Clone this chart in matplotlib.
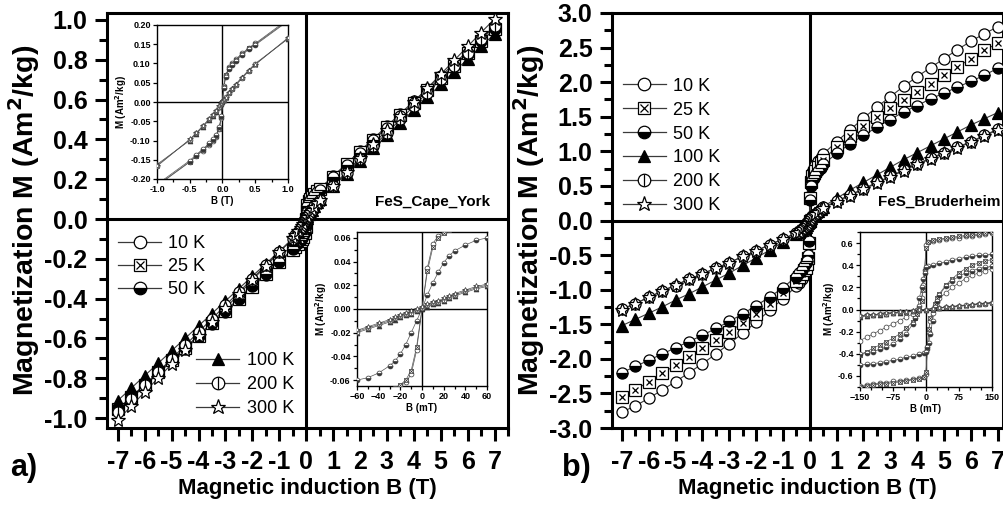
import matplotlib
matplotlib.use('Agg')
import matplotlib.pyplot as plt
from matplotlib.legend_handler import HandlerTuple
from matplotlib.lines import Line2D
from matplotlib.ticker import MultipleLocator, FormatStrFormatter

plt.rcParams['font.family'] = ['Liberation Sans', 'DejaVu Sans']

temps = ['10 K', '25 K', '50 K', '100 K', '200 K', '300 K']

# ---------------- main field grid (T) ----------------
B_main = [-7.0, -6.5, -6.0, -5.5, -5.0, -4.5, -4.0, -3.5, -3.0, -2.5, -2.0, -1.5, -1.0, -0.5,
          -0.4, -0.3, -0.2, -0.15, -0.1, -0.05, -0.02, 0.0, 0.02, 0.05, 0.1, 0.15, 0.2, 0.3, 0.4,
          0.5, 1.0, 1.5, 2.0, 2.5, 3.0, 3.5, 4.0, 4.5, 5.0, 5.5, 6.0, 6.5, 7.0]

# ---------------- panel a: FeS_Cape_York ----------------
Ma_10K = [-0.962, -0.900, -0.838, -0.776, -0.714, -0.652, -0.590, -0.528, -0.466, -0.404, -0.342, -0.280, -0.218, -0.156,
          -0.141, -0.126, -0.111, -0.101, -0.090, -0.071, -0.042, 0.0, 0.042, 0.071, 0.090, 0.101, 0.111, 0.126, 0.141,
          0.152, 0.215, 0.278, 0.341, 0.404, 0.467, 0.530, 0.592, 0.655, 0.718, 0.781, 0.843, 0.906, 0.968]
Ma_25K = [-0.955, -0.893, -0.832, -0.770, -0.709, -0.647, -0.586, -0.524, -0.463, -0.401, -0.340, -0.278, -0.217, -0.155,
          -0.139, -0.124, -0.109, -0.099, -0.088, -0.069, -0.040, 0.0, 0.040, 0.069, 0.088, 0.099, 0.109, 0.124, 0.139,
          0.150, 0.212, 0.274, 0.336, 0.398, 0.460, 0.522, 0.584, 0.646, 0.708, 0.770, 0.832, 0.894, 0.955]
Ma_50K = [-0.958, -0.896, -0.834, -0.772, -0.710, -0.648, -0.586, -0.524, -0.462, -0.400, -0.338, -0.276, -0.214, -0.152,
          -0.137, -0.122, -0.107, -0.097, -0.086, -0.066, -0.037, 0.0, 0.037, 0.066, 0.086, 0.097, 0.107, 0.122, 0.137,
          0.148, 0.210, 0.272, 0.334, 0.396, 0.458, 0.520, 0.582, 0.644, 0.706, 0.768, 0.830, 0.892, 0.954]
Ma_100K = [-0.912, -0.850, -0.787, -0.725, -0.662, -0.600, -0.537, -0.475, -0.412, -0.350, -0.287, -0.225, -0.162, -0.100,
           -0.083, -0.065, -0.046, -0.036, -0.025, -0.013, -0.005, 0.0, 0.005, 0.013, 0.025, 0.036, 0.046, 0.065, 0.083,
           0.100, 0.164, 0.228, 0.292, 0.356, 0.420, 0.484, 0.548, 0.612, 0.676, 0.740, 0.804, 0.868, 0.930]
Ma_200K = [-0.970, -0.903, -0.836, -0.769, -0.702, -0.635, -0.568, -0.501, -0.434, -0.367, -0.300, -0.232, -0.165, -0.098,
           -0.081, -0.063, -0.044, -0.034, -0.024, -0.012, -0.005, 0.0, 0.005, 0.012, 0.024, 0.034, 0.044, 0.063, 0.081,
           0.098, 0.165, 0.232, 0.299, 0.366, 0.433, 0.500, 0.567, 0.634, 0.701, 0.768, 0.835, 0.902, 0.968]
Ma_300K = [-1.010, -0.940, -0.869, -0.799, -0.729, -0.659, -0.588, -0.518, -0.448, -0.378, -0.307, -0.237, -0.167, -0.097,
           -0.080, -0.062, -0.043, -0.033, -0.023, -0.011, -0.004, 0.0, 0.004, 0.011, 0.023, 0.033, 0.043, 0.062, 0.080,
           0.097, 0.167, 0.237, 0.307, 0.377, 0.447, 0.517, 0.587, 0.657, 0.727, 0.797, 0.867, 0.937, 1.005]

# ---------------- panel b: FeS_Bruderheim ----------------
Mb_10K = [-2.77, -2.68, -2.57, -2.45, -2.33, -2.20, -2.07, -1.93, -1.78, -1.63, -1.47, -1.30, -1.13, -0.95,
          -0.90, -0.85, -0.79, -0.75, -0.69, -0.59, -0.35, 0.0, 0.36, 0.60, 0.70, 0.76, 0.80, 0.86, 0.91,
          0.96, 1.14, 1.31, 1.48, 1.64, 1.79, 1.94, 2.08, 2.21, 2.34, 2.47, 2.59, 2.70, 2.80]
Mb_25K = [-2.55, -2.45, -2.33, -2.21, -2.09, -1.97, -1.85, -1.73, -1.61, -1.48, -1.35, -1.21, -1.05, -0.87,
          -0.82, -0.77, -0.71, -0.68, -0.63, -0.54, -0.32, 0.0, 0.33, 0.55, 0.64, 0.69, 0.72, 0.78, 0.83,
          0.88, 1.06, 1.22, 1.36, 1.49, 1.62, 1.74, 1.86, 1.98, 2.10, 2.22, 2.34, 2.46, 2.56]
Mb_50K = [-2.20, -2.11, -2.02, -1.93, -1.84, -1.75, -1.66, -1.56, -1.46, -1.35, -1.23, -1.11, -0.97, -0.81,
          -0.76, -0.71, -0.66, -0.62, -0.58, -0.50, -0.30, 0.0, 0.30, 0.50, 0.58, 0.62, 0.66, 0.71, 0.76,
          0.81, 0.97, 1.11, 1.23, 1.35, 1.46, 1.57, 1.66, 1.76, 1.84, 1.93, 2.01, 2.10, 2.20]
Mb_100K = [-1.52, -1.43, -1.34, -1.25, -1.15, -1.06, -0.96, -0.86, -0.76, -0.65, -0.54, -0.43, -0.31, -0.19,
           -0.17, -0.14, -0.11, -0.09, -0.07, -0.04, -0.02, 0.0, 0.02, 0.04, 0.07, 0.09, 0.11, 0.14, 0.17,
           0.20, 0.32, 0.44, 0.55, 0.66, 0.77, 0.88, 0.98, 1.08, 1.18, 1.28, 1.38, 1.47, 1.56]
Mb_200K = [-1.28, -1.20, -1.11, -1.02, -0.94, -0.85, -0.77, -0.69, -0.61, -0.52, -0.44, -0.35, -0.27, -0.18,
           -0.16, -0.13, -0.10, -0.08, -0.06, -0.03, -0.01, 0.0, 0.01, 0.03, 0.06, 0.08, 0.10, 0.13, 0.16,
           0.19, 0.28, 0.37, 0.46, 0.55, 0.64, 0.73, 0.82, 0.90, 0.98, 1.06, 1.14, 1.23, 1.32]
Mb_300K = [-1.29, -1.20, -1.11, -1.02, -0.93, -0.85, -0.77, -0.69, -0.61, -0.52, -0.44, -0.35, -0.27, -0.18,
           -0.16, -0.13, -0.10, -0.08, -0.06, -0.03, -0.01, 0.0, 0.01, 0.03, 0.06, 0.08, 0.10, 0.13, 0.16,
           0.18, 0.27, 0.36, 0.45, 0.54, 0.63, 0.72, 0.81, 0.89, 0.97, 1.05, 1.13, 1.22, 1.31]

# ---------------- inset a2 (mT) ----------------
B_a2 = [-60, -50, -40, -30, -25, -20, -15, -10, -5, 0, 5, 10, 15, 20, 25, 30, 40, 50, 60]
Ma2_10K = [-0.075, -0.074, -0.072, -0.070, -0.068, -0.065, -0.062, -0.055, -0.035, 0.0, 0.035, 0.055, 0.062, 0.065, 0.068, 0.070, 0.072, 0.074, 0.075]
Ma2_25K = [-0.074, -0.073, -0.071, -0.069, -0.067, -0.064, -0.060, -0.052, -0.032, 0.0, 0.032, 0.052, 0.060, 0.064, 0.067, 0.069, 0.071, 0.073, 0.074]
Ma2_50K = [-0.060, -0.058, -0.054, -0.048, -0.044, -0.038, -0.030, -0.020, -0.010, 0.0, 0.012, 0.022, 0.031, 0.039, 0.045, 0.049, 0.054, 0.058, 0.060]
Ma2_100K = [-0.020, -0.017, -0.014, -0.011, -0.009, -0.007, -0.005, -0.004, -0.002, 0.0, 0.002, 0.004, 0.005, 0.007, 0.009, 0.011, 0.014, 0.017, 0.019]
Ma2_200K = [-0.019, -0.016, -0.013, -0.010, -0.008, -0.006, -0.004, -0.003, -0.001, 0.001, 0.003, 0.005, 0.006, 0.008, 0.010, 0.012, 0.015, 0.018, 0.020]
Ma2_300K = [-0.018, -0.015, -0.012, -0.009, -0.007, -0.005, -0.003, -0.002, 0.000, 0.002, 0.004, 0.006, 0.007, 0.009, 0.011, 0.013, 0.016, 0.019, 0.021]

# ---------------- inset b (mT), hysteresis branches ----------------
B_desc = [150, 135, 120, 105, 90, 75, 60, 45, 30, 15, 5, 0, -3, -6, -10, -15, -20, -25, -30, -45, -60, -75, -90, -105, -120, -135, -150]
B_asc = [-150, -135, -120, -105, -90, -75, -60, -45, -30, -15, -5, 0, 3, 6, 10, 15, 20, 25, 30, 45, 60, 75, 90, 105, 120, 135, 150]
Mbd_10K = [0.69, 0.68, 0.67, 0.665, 0.66, 0.65, 0.645, 0.64, 0.63, 0.62, 0.61, 0.58, 0.36, 0.22, 0.10, 0.03, 0.00, -0.02, -0.04, -0.07, -0.10, -0.13, -0.16, -0.19, -0.22, -0.25, -0.28]
Mba_10K = [-0.69, -0.68, -0.67, -0.665, -0.66, -0.65, -0.645, -0.64, -0.63, -0.62, -0.61, -0.58, -0.36, -0.20, -0.10, -0.03, 0.03, 0.07, 0.10, 0.15, 0.20, 0.24, 0.28, 0.31, 0.33, 0.35, 0.37]
Mbd_25K = [0.70, 0.69, 0.68, 0.675, 0.67, 0.66, 0.655, 0.645, 0.635, 0.625, 0.61, 0.56, 0.35, 0.18, 0.08, 0.01, -0.04, -0.08, -0.11, -0.17, -0.22, -0.26, -0.29, -0.32, -0.35, -0.38, -0.41]
Mba_25K = [-0.70, -0.69, -0.68, -0.675, -0.67, -0.66, -0.655, -0.645, -0.635, -0.625, -0.61, -0.56, -0.35, -0.18, -0.08, 0.00, 0.05, 0.10, 0.14, 0.22, 0.28, 0.33, 0.37, 0.40, 0.42, 0.44, 0.45]
Mbd_50K = [0.50, 0.495, 0.49, 0.48, 0.47, 0.46, 0.45, 0.43, 0.42, 0.40, 0.39, 0.38, 0.33, 0.28, 0.20, 0.10, 0.00, -0.08, -0.13, -0.22, -0.27, -0.31, -0.34, -0.36, -0.38, -0.39, -0.40]
Mba_50K = [-0.50, -0.495, -0.49, -0.48, -0.47, -0.46, -0.45, -0.43, -0.42, -0.40, -0.39, -0.38, -0.34, -0.30, -0.22, -0.10, 0.02, 0.08, 0.13, 0.21, 0.26, 0.30, 0.33, 0.35, 0.37, 0.38, 0.39]
B_lin = [-150, -135, -120, -105, -90, -75, -60, -45, -30, -15, 0, 15, 30, 45, 60, 75, 90, 105, 120, 135, 150]
Mbl_100K = [-0.065, -0.059, -0.053, -0.047, -0.041, -0.035, -0.029, -0.023, -0.016, -0.009, 0.0, 0.009, 0.016, 0.023, 0.029, 0.035, 0.041, 0.047, 0.053, 0.059, 0.065]
Mbl_200K = [-0.060, -0.054, -0.049, -0.043, -0.037, -0.032, -0.026, -0.020, -0.014, -0.008, 0.0, 0.008, 0.014, 0.020, 0.026, 0.032, 0.037, 0.043, 0.049, 0.054, 0.060]
Mbl_300K = [-0.057, -0.052, -0.046, -0.041, -0.035, -0.030, -0.024, -0.019, -0.013, -0.007, 0.0, 0.007, 0.013, 0.019, 0.024, 0.030, 0.035, 0.041, 0.046, 0.052, 0.057]

# ---------------- styling ----------------
LINE_C = '#3a3a3a'


def marker_specs(t):
    if t == '10 K':
        return [dict(marker='o', mfc='white', mec='black')]
    if t == '25 K':
        return [dict(marker='s', mfc='white', mec='black'), dict(marker='x', mfc='none', mec='black', scale=0.62)]
    if t == '50 K':
        return [dict(marker='o', mfc='black', mec='black', fillstyle='bottom', markerfacecoloralt='white')]
    if t == '100 K':
        return [dict(marker='^', mfc='black', mec='black')]
    if t == '200 K':
        return [dict(marker='o', mfc='white', mec='black'), dict(marker='|', mfc='none', mec='black', scale=1.0)]
    return [dict(marker='*', mfc='white', mec='black', scale=1.25)]


def draw(ax, x, y, t, ms, mew, lw, lc=LINE_C, mec=None):
    ax.plot(x, y, '-', color=lc, lw=lw, zorder=2)
    for sp in marker_specs(t):
        sp = dict(sp)
        sc = sp.pop('scale', 1.0)
        if mec is not None:
            sp['mec'] = mec
            if sp.get('mfc') == 'black':
                sp['mfc'] = mec
        ax.plot(x, y, ls='none', ms=ms * sc, mew=mew, zorder=3, **sp)


def legend_handle(t, ms=9, mew=0.9):
    parts = []
    first = True
    for sp in marker_specs(t):
        sp = dict(sp)
        sc = sp.pop('scale', 1.0)
        parts.append(Line2D([], [], color=LINE_C if first else 'none', lw=0.9,
                            ms=ms * sc, mew=mew, **sp))
        first = False
    return tuple(parts)


def style_main(ax):
    for s in ax.spines.values():
        s.set_linewidth(2.2)
    ax.tick_params(which='major', direction='out', length=9, width=2.2, labelsize=18, pad=7)
    ax.tick_params(which='minor', direction='out', length=5.5, width=2.2)
    for lab in ax.get_xticklabels() + ax.get_yticklabels():
        lab.set_fontweight('bold')
    ax.tick_params(axis='y', which='major', pad=5)
    ax.axhline(0, color='black', lw=2.2, zorder=1)
    ax.axvline(0, color='black', lw=2.2, zorder=1)


def style_inset(ax):
    for s in ax.spines.values():
        s.set_linewidth(1.0)
    ax.tick_params(which='major', direction='out', length=3, width=0.9, labelsize=6.5, pad=1.5)
    ax.tick_params(which='minor', direction='out', length=2, width=0.9)
    for lab in ax.get_xticklabels() + ax.get_yticklabels():
        lab.set_fontweight('bold')
    ax.axhline(0, color='black', lw=1.0, zorder=1)
    ax.axvline(0, color='black', lw=1.0, zorder=1)


fig = plt.figure(figsize=(10.04, 5.07), dpi=100)
W, H = 1004.0, 507.0


def frac(l, t, r, b):
    return [l / W, 1 - b / H, (r - l) / W, (b - t) / H]


axa = fig.add_axes(frac(107, 13, 508, 428))
axb = fig.add_axes(frac(612, 13, 1003, 428))

Ma = [Ma_10K, Ma_25K, Ma_50K, Ma_100K, Ma_200K, Ma_300K]
Mb = [Mb_10K, Mb_25K, Mb_50K, Mb_100K, Mb_200K, Mb_300K]
for t, ya in zip(temps, Ma):
    draw(axa, B_main, ya, t, ms=8, mew=0.9, lw=0.8)
for t, yb in zip(temps, Mb):
    draw(axb, B_main, yb, t, ms=8, mew=0.9, lw=0.8)

axa.set_xlim(-7.4, 7.5)
axa.set_ylim(-1.05, 1.035)
axa.xaxis.set_major_locator(MultipleLocator(1))
axa.xaxis.set_minor_locator(MultipleLocator(0.5))
axa.yaxis.set_major_locator(MultipleLocator(0.2))
axa.yaxis.set_minor_locator(MultipleLocator(0.1))
axa.yaxis.set_major_formatter(FormatStrFormatter('%.1f'))
axa.xaxis.set_major_formatter(FormatStrFormatter('%d'))

axb.set_xlim(-7.37, 7.2)
axb.set_ylim(-3.0, 3.0)
axb.xaxis.set_major_locator(MultipleLocator(1))
axb.xaxis.set_minor_locator(MultipleLocator(0.5))
axb.yaxis.set_major_locator(MultipleLocator(0.5))
axb.yaxis.set_minor_locator(MultipleLocator(0.25))
axb.yaxis.set_major_formatter(FormatStrFormatter('%.1f'))
axb.xaxis.set_major_formatter(FormatStrFormatter('%d'))

for ax in (axa, axb):
    style_main(ax)
    ax.set_xlabel('Magnetic induction B (T)', fontsize=16, fontweight='bold', labelpad=3)
    ax.set_ylabel('Magnetization M (Am$^\\mathbf{2}$/kg)', fontsize=20.5, fontweight='bold', labelpad=2)

axa.text(0.955, 0.545, 'FeS_Cape_York', transform=axa.transAxes, ha='right', va='center',
         fontsize=11, fontweight='bold')
axb.text(0.993, 0.545, 'FeS_Bruderheim', transform=axb.transAxes, ha='right', va='center',
         fontsize=11, fontweight='bold')
fig.text(10 / W, 1 - 468 / H, 'a)', fontsize=22, fontweight='bold', va='center')
fig.text(562 / W, 1 - 468 / H, 'b)', fontsize=22, fontweight='bold', va='center')

# legends
hm = HandlerTuple(ndivide=1, pad=0)
hs = [legend_handle(t) for t in temps]
leg1 = axa.legend(hs[:3], temps[:3], handler_map={tuple: hm}, loc='upper left',
                  bbox_to_anchor=(0.0, 0.49), frameon=False, fontsize=13, handlelength=2.4,
                  handletextpad=0.4, labelspacing=0.32, borderaxespad=0.2)
axa.add_artist(leg1)
axa.legend(hs[3:], temps[3:], handler_map={tuple: hm}, loc='lower left',
           bbox_to_anchor=(0.195, 0.0), frameon=False, fontsize=13, handlelength=2.4,
           handletextpad=0.4, labelspacing=0.38, borderaxespad=0.2)
axb.legend(hs, temps, handler_map={tuple: hm}, loc='upper left',
           bbox_to_anchor=(0.0, 0.87), frameon=False, fontsize=13, handlelength=2.4,
           handletextpad=0.4, labelspacing=0.38, borderaxespad=0.2)

# ---------------- inset a1 ----------------
ia1 = fig.add_axes(frac(157, 25, 288, 179))
for t, ya in zip(temps, Ma):
    draw(ia1, B_main, ya, t, ms=3.5, mew=0.5, lw=0.5, lc='#555555', mec='#333333')
ia1.set_xlim(-1, 1)
ia1.set_ylim(-0.2, 0.2)
ia1.xaxis.set_major_locator(MultipleLocator(0.5))
ia1.xaxis.set_minor_locator(MultipleLocator(0.25))
ia1.yaxis.set_major_locator(MultipleLocator(0.05))
ia1.yaxis.set_major_formatter(FormatStrFormatter('%.2f'))
ia1.xaxis.set_major_formatter(FormatStrFormatter('%.1f'))
style_inset(ia1)
ia1.set_xlabel('B (T)', fontsize=7, fontweight='bold', labelpad=1)
ia1.set_ylabel('M (Am$^\\mathbf{2}$/kg)', fontsize=7, fontweight='bold', labelpad=1)

# ---------------- inset a2 ----------------
ia2 = fig.add_axes(frac(357, 232, 487, 386))
Ma2 = [Ma2_10K, Ma2_25K, Ma2_50K, Ma2_100K, Ma2_200K, Ma2_300K]
for t, ya in zip(temps, Ma2):
    draw(ia2, B_a2, ya, t, ms=3.5, mew=0.5, lw=0.5, lc='#555555', mec='#333333')
ia2.set_xlim(-60, 60)
ia2.set_ylim(-0.065, 0.065)
ia2.xaxis.set_major_locator(MultipleLocator(20))
ia2.xaxis.set_minor_locator(MultipleLocator(10))
ia2.yaxis.set_major_locator(MultipleLocator(0.02))
ia2.yaxis.set_minor_locator(MultipleLocator(0.01))
ia2.yaxis.set_major_formatter(FormatStrFormatter('%.2f'))
style_inset(ia2)
ia2.set_xlabel('B (mT)', fontsize=7, fontweight='bold', labelpad=1)
ia2.set_ylabel('M (Am$^\\mathbf{2}$/kg)', fontsize=7, fontweight='bold', labelpad=1)

# ---------------- inset b ----------------
ib = fig.add_axes(frac(860, 232, 992, 387))
loops = [('10 K', Mbd_10K, Mba_10K), ('25 K', Mbd_25K, Mba_25K), ('50 K', Mbd_50K, Mba_50K)]
for t, yd, ya in loops:
    draw(ib, B_desc, yd, t, ms=3.5, mew=0.5, lw=0.5, lc='#555555', mec='#333333')
    draw(ib, B_asc, ya, t, ms=3.5, mew=0.5, lw=0.5, lc='#555555', mec='#333333')
for t, yl in zip(temps[3:], [Mbl_100K, Mbl_200K, Mbl_300K]):
    draw(ib, B_lin, yl, t, ms=3.5, mew=0.5, lw=0.5, lc='#555555', mec='#333333')
ib.set_xlim(-150, 150)
ib.set_ylim(-0.7, 0.7)
ib.xaxis.set_major_locator(MultipleLocator(75))
ib.xaxis.set_minor_locator(MultipleLocator(25))
ib.yaxis.set_major_locator(MultipleLocator(0.2))
ib.yaxis.set_minor_locator(MultipleLocator(0.1))
ib.yaxis.set_major_formatter(FormatStrFormatter('%.1f'))
style_inset(ib)
ib.set_xlabel('B (mT)', fontsize=7, fontweight='bold', labelpad=1)
ib.set_ylabel('M (Am$^\\mathbf{2}$/kg)', fontsize=7, fontweight='bold', labelpad=1)

fig.savefig('out.png', dpi=100)
